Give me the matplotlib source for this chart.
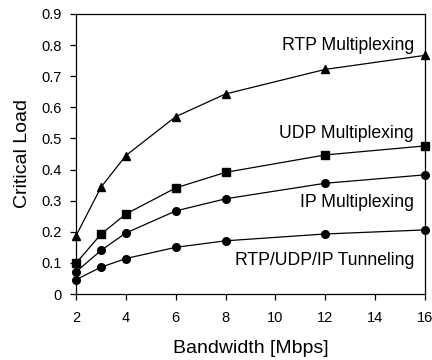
import matplotlib
matplotlib.use("Agg")
import matplotlib.pyplot as plt

plt.rcParams['font.family'] = ['Liberation Sans', 'DejaVu Sans']

bandwidth = [2, 3, 4, 6, 8, 12, 16]
rtp_mux = [0.187, 0.343, 0.445, 0.570, 0.643, 0.722, 0.767]
udp_mux = [0.099, 0.192, 0.257, 0.341, 0.391, 0.447, 0.476]
ip_mux = [0.071, 0.140, 0.196, 0.267, 0.306, 0.356, 0.383]
tunneling = [0.046, 0.086, 0.114, 0.150, 0.171, 0.193, 0.206]

x_ticks = [2, 4, 6, 8, 10, 12, 14, 16]
y_ticks = [0, 0.1, 0.2, 0.3, 0.4, 0.5, 0.6, 0.7, 0.8, 0.9]
y_tick_labels = ['0', '0.1', '0.2', '0.3', '0.4', '0.5', '0.6', '0.7', '0.8', '0.9']

fig = plt.figure(figsize=(4.32, 3.6), dpi=100)
ax = fig.add_axes([76/432, 1-294/360, (425-76)/432, (294-14)/360])

style = dict(color='black', lw=0.9, clip_on=False, zorder=3)
ax.plot(bandwidth, rtp_mux, marker='^', ms=6, **style)
ax.plot(bandwidth, udp_mux, marker='s', ms=5.5, **style)
ax.plot(bandwidth, ip_mux, marker='o', ms=5.5, **style)
ax.plot(bandwidth, tunneling, marker='o', ms=5.5, **style)

ax.set_xlim(2, 16)
ax.set_ylim(0, 0.9)
ax.set_xticks(x_ticks)
ax.set_yticks(y_ticks)
ax.set_yticklabels(y_tick_labels)
ax.tick_params(direction='out', length=4, width=0.9, labelsize=10.5)
ax.tick_params(axis='x', pad=8)
ax.tick_params(axis='y', pad=6.5)
for s in ax.spines.values():
    s.set_linewidth(0.9)

tk = dict(ha='right', va='center', fontsize=12.7)
ax.text(15.56, 0.800, 'RTP Multiplexing', **tk)
ax.text(15.56, 0.517, 'UDP Multiplexing', **tk)
ax.text(15.56, 0.295, 'IP Multiplexing', **tk)
ax.text(15.56, 0.109, 'RTP/UDP/IP Tunneling', **tk)

ax.set_xlabel('Bandwidth [Mbps]', fontsize=14, labelpad=11)
ax.set_ylabel('Critical Load', fontsize=14)
ax.yaxis.set_label_coords(-0.130, 0.5)

fig.savefig('out.png', dpi=100)
